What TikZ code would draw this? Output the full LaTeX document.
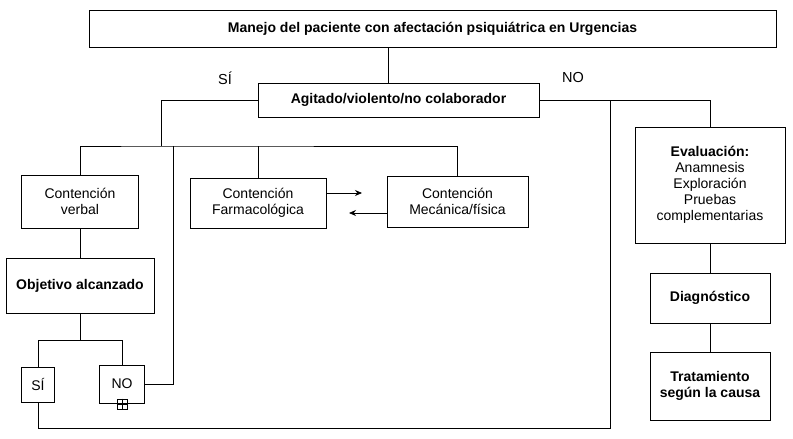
\documentclass[tikz,border=0pt]{standalone}
\usepackage{fontspec}
\setmainfont{Liberation Sans}
\usetikzlibrary{arrows.meta}

\begin{document}
\begin{tikzpicture}[x=1pt,y=-1pt,
    box/.style={draw,thick,align=center,inner sep=2pt,font=\fontsize{14}{16}\selectfont},
    hd/.style={box,font=\fontsize{14}{16}\selectfont\bfseries},
    lbl/.style={font=\fontsize{14.5}{16}\selectfont},
    conn/.style={thick}]
    \useasboundingbox (0,0) rectangle (793,439);
    % main boxes
    \node[hd,minimum width=687,minimum height=37] (title) at (432.5,28.5) {Manejo del paciente con afectación psiquiátrica en Urgencias};
    \node[hd,minimum width=281,minimum height=34] (agit) at (398.5,100) {Agitado/violento/no colaborador};
    \node[lbl] (si) at (225,78) {SÍ};
    \node[lbl] (no) at (573,78) {NO};
    % left branch
    \node[box,minimum width=117,minimum height=53] (verbal) at (80,201.5) {Contención\\verbal};
    \node[hd,minimum width=148,minimum height=55] (obj) at (80,285.5) {Objetivo alcanzado};
    \node[box,minimum width=33,minimum height=35] (osi) at (38,384.5) {SÍ};
    \node[box,minimum width=45,minimum height=38] (ono) at (122,384) {NO};
    \node[draw,thick,minimum size=10,inner sep=0pt] (plus) at (122,404) {};
    \draw[conn] (plus.north) -- (plus.south) (plus.west) -- (plus.east);
    \node[box,minimum width=136,minimum height=50] (farm) at (258,203) {Contención\\Farmacológica};
    \node[box,minimum width=141,minimum height=51] (mec) at (457.5,201.5) {Contención\\Mecánica/física};
    % right branch
    \node[box,minimum width=150,minimum height=116] (eval) at (710,185) {\textbf{Evaluación:}\\Anamnesis\\Exploración\\Pruebas\\complementarias};
    \node[hd,minimum width=120,minimum height=50] (diag) at (710,298) {Diagnóstico};
    \node[hd,minimum width=120,minimum height=68] (trat) at (710,386) {Tratamiento\\según la causa};
    \coordinate (split) at (161,146);
    \coordinate (back) at (610,100);
    % connectors
    \draw[conn] (388,47) -- (388,83);
    \draw[conn] (agit.west) -| (split);
    \draw[conn] (verbal.north) |- (split) -| (173,146) -| (mec.north);
    \draw[conn] (farm.north) -- (farm.north |- split);
    \draw[conn] (ono.east) -| (173,146);
    \draw[conn] (verbal) -- (obj);
    \draw[conn] (obj.south) -- (80,340) -| (osi.north);
    \draw[conn] (80,340) -| (ono.north);
    \draw[conn] (osi.south) |- (610,428) -- (back);
    \draw[conn] (agit.east) -| (eval.north);
    \draw[conn] (eval) -- (diag);
    \draw[conn] (diag) -- (trat);
    \draw[conn,-{Stealth[length=7pt,width=6pt]}] (farm.east |- 0,193) -- (362,193);
    \draw[conn,-{Stealth[length=7pt,width=6pt]}] (mec.west |- 0,213) -- (349,213);
\end{tikzpicture}
\end{document}
